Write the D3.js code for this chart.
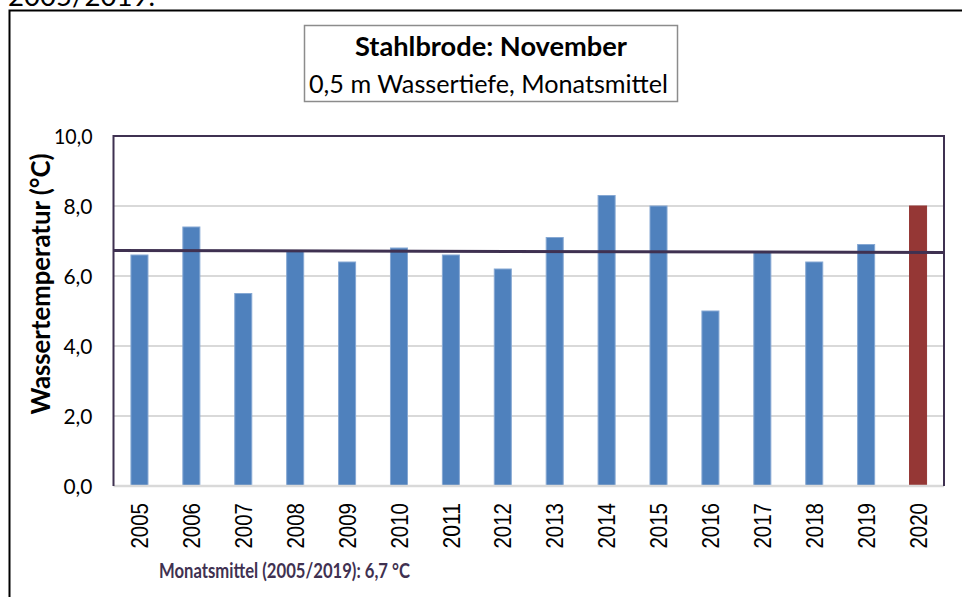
<!DOCTYPE html>
<html>
<head>
<meta charset="utf-8">
<script src="https://cdn.jsdelivr.net/npm/d3@7"></script>
<style>
  html, body { margin: 0; padding: 0; background: #fff; }
  svg { display: block; }
</style>
</head>
<body>
<svg id="chart" width="962" height="597"></svg>
<script>
// ---- data ----
const years = ["2005","2006","2007","2008","2009","2010","2011","2012","2013","2014","2015","2016","2017","2018","2019","2020"];
const temps = [6.6, 7.4, 5.5, 6.7, 6.4, 6.8, 6.6, 6.2, 7.1, 8.3, 8.0, 5.0, 6.7, 6.4, 6.9, 8.0];
const highlightYear = "2020";
const meanLine = [6.73, 6.67];          // value at left / right end of plot
const yTicks = [0, 2, 4, 6, 8, 10];
const titleText = "Stahlbrode: November";
const subtitleText = "0,5 m Wassertiefe, Monatsmittel";
const yAxisTitle = "Wassertemperatur (°C)";
const meanLabel = "Monatsmittel (2005/2019): 6,7 °C";
const topCutText = "2005/2019.";

// ---- layout ----
const svg = d3.select("#chart");
const plot = { left: 113.5, right: 944, top: 136, bottom: 486 };
const x = d3.scaleBand().domain(years).range([plot.left, plot.right]).paddingInner(0.672).paddingOuter(0.336);
const y = d3.scaleLinear().domain([0, 10]).range([plot.bottom, plot.top]);
const fmt = v => d3.format(".1f")(v).replace(".", ",");
const purple = "#3F3151";
const calib = "Lato, 'Open Sans', sans-serif";

// squeeze text to a target width (Calibri-like narrower glyphs)
function len(sel, target) {
  sel.each(function () {
    const w = this.getComputedTextLength();
    if (w > target) d3.select(this).attr("textLength", target).attr("lengthAdjust", "spacingAndGlyphs");
    else {
      const fs = parseFloat(d3.select(this).attr("font-size"));
      d3.select(this).attr("font-size", (fs * target / w).toFixed(2));
    }
  });
}

// cut-off text at very top
svg.append("text").attr("x", 8).attr("y", 6).attr("font-family", calib).attr("font-size", 24)
  .attr("fill", "#000").text(topCutText).call(len, 147);

// outer frame
svg.append("rect").attr("x", 9.5).attr("y", 10.5).attr("width", 1200).attr("height", 800)
  .attr("fill", "none").attr("stroke", "#000").attr("stroke-width", 2);

// title box
svg.append("rect").attr("x", 304.5).attr("y", 25.5).attr("width", 373).attr("height", 76)
  .attr("fill", "#fff").attr("stroke", "#8c8c8c").attr("stroke-width", 1.5);
svg.append("text").attr("x", 491).attr("y", 56).attr("text-anchor", "middle")
  .attr("font-family", calib).attr("font-weight", "bold").attr("font-size", 23)
  .text(titleText).call(len, 272);
svg.append("text").attr("x", 488.5).attr("y", 93).attr("text-anchor", "middle")
  .attr("font-family", calib).attr("font-size", 23)
  .text(subtitleText).call(len, 359);

// gridlines
const g = svg.append("g");
g.selectAll("line.grid").data(yTicks.filter(t => t > 0 && t < 10)).join("line")
  .attr("class", "grid")
  .attr("x1", plot.left).attr("x2", plot.right)
  .attr("y1", d => y(d)).attr("y2", d => y(d))
  .attr("stroke", "#D9D9D9").attr("stroke-width", 2);

// bars
g.selectAll("rect.bar").data(years).join("rect")
  .attr("class", "bar")
  .attr("x", d => x(d))
  .attr("width", x.bandwidth())
  .attr("y", (d, i) => y(temps[i]))
  .attr("height", (d, i) => y(0) - y(temps[i]))
  .attr("fill", d => d === highlightYear ? "#953735" : "#4F81BD")
  .attr("stroke", d => d === highlightYear ? "#953735" : "#86A8D3")
  .attr("stroke-width", 1);

// x axis baseline
g.append("line").attr("x1", plot.left).attr("x2", plot.right)
  .attr("y1", y(0)).attr("y2", y(0)).attr("stroke", "#D9D9D9").attr("stroke-width", 2.5);

// plot border (left, top, right)
g.append("path")
  .attr("d", `M${plot.left},${plot.bottom} V${plot.top} H${plot.right} V${plot.bottom}`)
  .attr("fill", "none").attr("stroke", purple).attr("stroke-width", 2);

// mean line
const lineX = d3.scaleLinear().domain([0, 1]).range([plot.left, plot.right]);
g.append("path")
  .datum(meanLine)
  .attr("d", d3.line().x((d, i) => lineX(i)).y(d => y(d)))
  .attr("stroke", purple).attr("stroke-width", 3).attr("fill", "none");

// y axis
const yAxis = svg.append("g").attr("transform", `translate(${plot.left},0)`)
  .call(d3.axisLeft(y).tickValues(yTicks).tickFormat(fmt).tickSize(0).tickPadding(21));
yAxis.select(".domain").remove();
yAxis.selectAll("text").attr("font-family", calib).attr("font-size", 21.5).attr("fill", "#000").attr("dy", "0.36em")
  .each(function () { d3.select(this).call(len, this.textContent.length === 4 ? 38.5 : 29); });

// x axis labels
const xAxis = svg.append("g").attr("transform", `translate(0,${plot.bottom})`)
  .call(d3.axisBottom(x).tickSize(0).tickPadding(0));
xAxis.select(".domain").remove();
xAxis.selectAll("text")
  .attr("font-family", "'Liberation Sans', Arial, sans-serif").attr("font-size", 24).attr("fill", "#000")
  .attr("text-anchor", "end")
  .attr("transform", "rotate(-90)")
  .attr("x", -17).attr("y", 0).attr("dy", "0.36em")
  .call(len, 45.5);

// y axis title
svg.append("text").attr("transform", "translate(50,284) rotate(-90)")
  .attr("text-anchor", "middle").attr("font-family", calib).attr("font-weight", "bold").attr("font-size", 23)
  .text(yAxisTitle).call(len, 261);

// mean label
svg.append("text").attr("x", 159).attr("y", 578)
  .attr("font-family", calib).attr("font-weight", "bold").attr("font-size", 21).attr("fill", purple)
  .text(meanLabel).call(len, 251);
</script>
</body>
</html>
